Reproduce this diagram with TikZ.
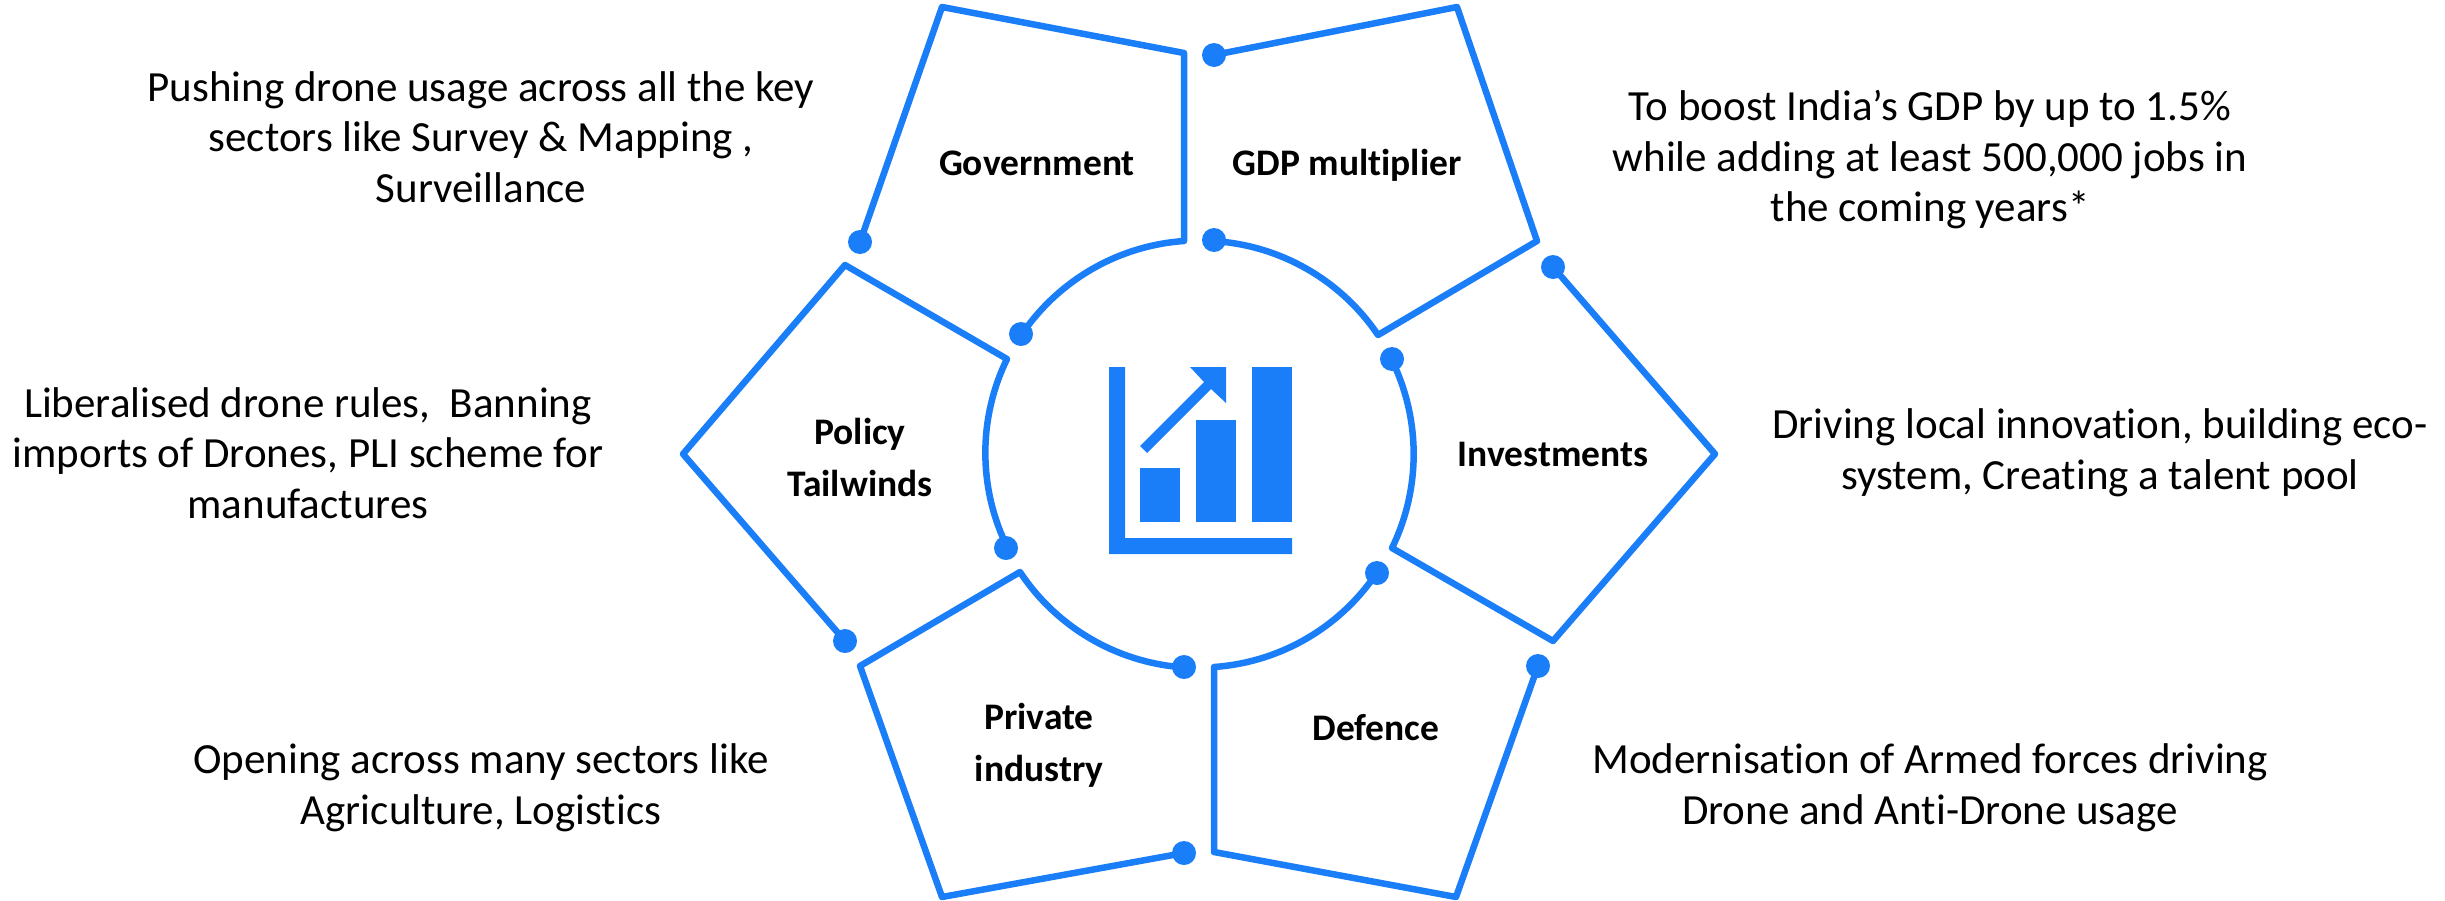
\documentclass[tikz,border=0pt]{standalone}
\usepackage{fontspec}
\setmainfont[Ligatures=NoCommon]{Carlito}
\definecolor{blu}{HTML}{1A7EF9}
\tikzset{
  outline/.style={draw=blu,line width=6.5pt,line join=round,line cap=round},
  dot/.style={circle,fill=blu,inner sep=0pt,minimum size=24pt},
  head/.style={font=\fontsize{37.5}{52}\selectfont\bfseries,align=center,inner sep=0pt},
  txt/.style={font=\fontsize{43}{50.5}\selectfont,align=center,inner sep=0pt},
  ico/.style={fill=blu,draw=none}
}
\begin{document}
\begin{tikzpicture}[x=1pt,y=-1pt]
\useasboundingbox (0,0) rectangle (2445,900);
% Government
\node[dot] (g1) at (860,242) {};
\node[dot] (g2) at (1021,334) {};
\draw[outline] (g1.center) -- (942,7) -- (1184,53) -- (1184,241) arc[start angle=94,end angle=146,radius=214pt] -- (g2.center);
% GDP
\node[dot] (d1) at (1214,55) {};
\node[dot] (d2) at (1214,240) {};
\draw[outline] (d1.center) -- (1457,7) -- (1537,241) -- (1378,335) arc[start angle=34,end angle=86,radius=214pt] -- (d2.center);
% Investments
\node[dot] (i1) at (1553,267) {};
\node[dot] (i2) at (1392,359) {};
\draw[outline] (i1.center) -- (1715,454) -- (1553,641) -- (1392,548) arc[start angle=-26,end angle=26,radius=214pt] -- (i2.center);
% Defence
\node[dot] (f1) at (1538,666) {};
\node[dot] (f2) at (1377,573) {};
\draw[outline] (f1.center) -- (1456,897) -- (1214,852) -- (1214,667) arc[start angle=-86,end angle=-34,radius=214pt] -- (f2.center);
% Private
\node[dot] (p1) at (1184,853) {};
\node[dot] (p2) at (1184,667) {};
\draw[outline] (p1.center) -- (942,897) -- (860,666) -- (1020,572) arc[start angle=213.5,end angle=266,radius=214pt] -- (p2.center);
% Policy
\node[dot] (o1) at (845,641) {};
\node[dot] (o2) at (1006,548) {};
\draw[outline] (o1.center) -- (683,454) -- (845,265) -- (1007,359) arc[start angle=154,end angle=206,radius=214pt] -- (o2.center);
% Icon
\fill[ico] (1109,367) -- (1125,367) -- (1125,538) -- (1292,538) -- (1292,554) -- (1109,554) -- cycle;
\fill[ico] (1140,468) rectangle (1180,522);
\fill[ico] (1196,420) rectangle (1236,522);
\fill[ico] (1252,367) rectangle (1292,522);
\fill[ico] (1190,367) -- (1226,367) -- (1226,403) -- (1211,389) -- (1147,453) -- (1140,446) -- (1204,382) -- cycle;
% Labels
\node[head] (lg) at (1037,163) {Government};
\node[head] (ld) at (1347,165) {GDP multiplier};
\node[head] (li) at (1553,454) {Investments};
\node[head] (lf) at (1376,728) {Defence};
\node[head] (lp) at (1039,745) {Private\\industry};
\node[head] (lo) at (860,457) {Policy\\Tailwinds};
% Texts
\node[txt] (t1) at (481,137) {Pushing drone usage across all the key\\sectors like Survey \& Mapping ,\\Surveillance};
\node[txt] (t2) at (1930,160) {To boost India\symbol{39}s GDP by up to 1.5\%\\while adding at least 500,000 jobs in\\the coming years*};
\node[txt] (t3) at (308,453) {Liberalised drone rules,\ \ Banning\\imports of Drones, PLI scheme for\\manufactures};
\node[txt] (t4) at (2100,453) {Driving local innovation, building eco-\\system, Creating a talent pool};
\node[txt] (t5) at (481,788) {Opening across many sectors like\\Agriculture, Logistics};
\node[txt] (t6) at (1930,788) {Modernisation of Armed forces driving\\Drone and Anti-Drone usage};
\end{tikzpicture}
\end{document}
